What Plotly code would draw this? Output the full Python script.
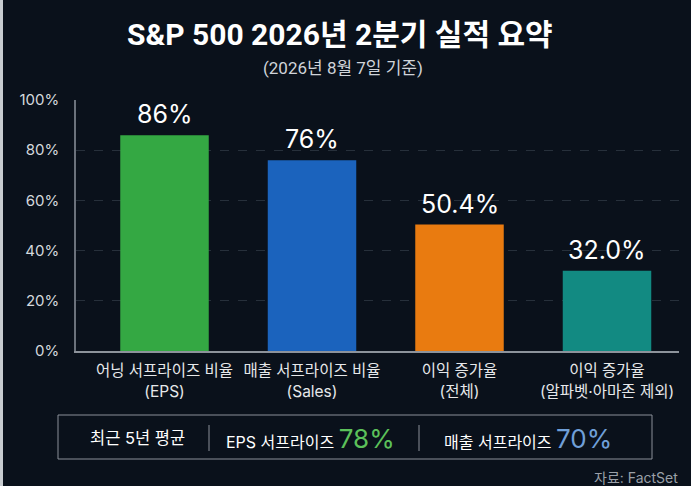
import plotly.graph_objects as go

# 데이터
categories = ["어닝 서프라이즈 비율<br>(EPS)", "매출 서프라이즈 비율<br>(Sales)",
              "이익 증가율<br>(전체)", "이익 증가율<br>(알파벳·아마존 제외)"]
values = [86, 76, 50.4, 32.0]
value_labels = ["86%", "76%", "50.4%", "32.0%"]
bar_colors = ["#34a843", "#1b63bd", "#e97b10", "#128a82"]
y_ticks = [0, 20, 40, 60, 80, 100]
y_ticktext = ["0%", "20%", "40%", "60%", "80%", "100%"]
avg_eps = "78%"
avg_sales = "70%"

W, H = 691, 486
L, R, T, B = 76, 679, 100, 351
FONT = "Inter, Noto Sans CJK KR, sans-serif"
BG = "#0a111b"


def px(x):
    return (x - L) / (R - L)


def py(y):
    return (B - y) / (B - T)


def note(x, y, text, size, color, xanchor="center", family=FONT):
    fig.add_annotation(x=px(x), y=py(y), xref="paper", yref="paper",
                       text=text, showarrow=False, xanchor=xanchor, yanchor="middle",
                       font=dict(size=size, color=color, family=family))


fig = go.Figure()
fig.add_trace(go.Bar(
    x=list(range(len(values))),
    y=values,
    marker=dict(color=bar_colors, line=dict(width=0)),
    width=0.6,
    hoverinfo="skip",
))

# 막대 위 값 표시
for i, (v, lab) in enumerate(zip(values, value_labels)):
    fig.add_annotation(x=i, y=v, text=lab, showarrow=False, yanchor="bottom",
                       xanchor="center", yshift=4,
                       font=dict(size=25, color="#ffffff", family=FONT))

# 제목
note(340, 34, "<b>S&P 500 2026년 2분기 실적 요약</b>", 30, "#ffffff",
     family="Roboto, Noto Sans CJK KR, sans-serif")
note(343, 68, "(2026년 8월 7일 기준)", 17, "#d0d4da",
     family="Roboto, Noto Sans CJK KR, sans-serif")

# 하단 요약 박스
fig.add_shape(type="rect", xref="paper", yref="paper",
              x0=px(58), x1=px(652), y0=py(415), y1=py(459),
              line=dict(color="#8a9099", width=1), fillcolor="rgba(0,0,0,0)")
for sx in [209, 419]:
    fig.add_shape(type="line", xref="paper", yref="paper",
                  x0=px(sx), x1=px(sx), y0=py(425), y1=py(451),
                  line=dict(color="#8a9099", width=1))

note(137, 438, "최근 5년 평균", 16.5, "#ffffff")
note(310, 438, ("EPS 서프라이즈 <span style='font-size:26px;color:#5cc15a'>"
                + avg_eps + "</span>"), 16, "#ffffff")
note(528, 438, ("매출 서프라이즈 <span style='font-size:26px;color:#6f9fd8'>"
                + avg_sales + "</span>"), 16, "#ffffff")

note(680, 477, "자료: FactSet", 14, "#9aa0a8", xanchor="right")

# 왼쪽 테두리
fig.add_shape(type="rect", xref="paper", yref="paper",
              x0=px(0), x1=px(3), y0=py(0), y1=py(486),
              line=dict(width=0), fillcolor="#c8ccd0", layer="above")

fig.update_layout(
    width=W, height=H,
    margin=dict(l=L, r=W - R, t=T, b=H - B),
    paper_bgcolor=BG, plot_bgcolor=BG,
    showlegend=False,
    font=dict(family=FONT, color="#ffffff"),
    xaxis=dict(
        range=[-0.6, (R - L) / 147.5 - 0.6],
        tickvals=list(range(len(categories))),
        ticktext=categories,
        tickfont=dict(size=15.5, color="#e6e8ea", family=FONT),
        showgrid=False, showline=True, linecolor="#8d939b", linewidth=1.5,
        ticks="", ticklabelstandoff=5, fixedrange=True,
    ),
    yaxis=dict(
        range=[0, 100],
        tickvals=y_ticks,
        ticktext=y_ticktext,
        tickfont=dict(size=15, color="#d5d9de", family=FONT),
        showgrid=True, gridcolor="#27303b", griddash="dash", gridwidth=1,
        zeroline=False, showline=True, linecolor="#6b727c", linewidth=1.5,
        ticks="", ticklabelstandoff=12, fixedrange=True,
    ),
)

fig.write_html("out.html", config={"displayModeBar": False},
               post_script="document.body.style.margin='0';")
